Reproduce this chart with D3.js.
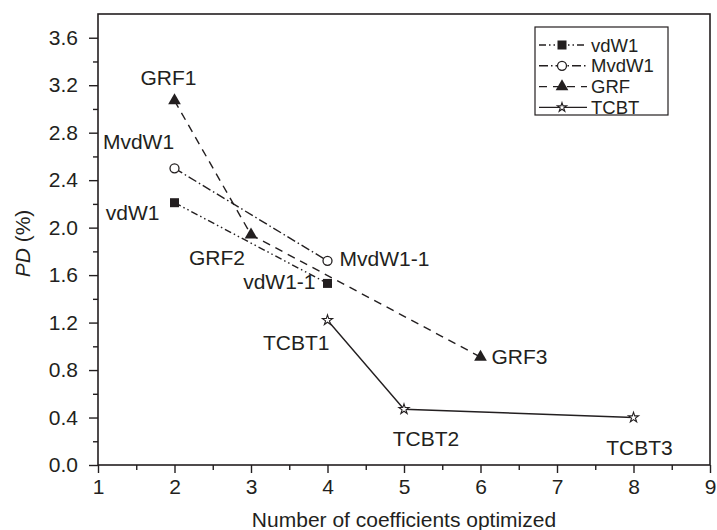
<!DOCTYPE html>
<html lang="en">
<head>
    <meta charset="UTF-8">
    <title>PD vs number of coefficients</title>
    <script src="https://d3js.org/d3.v7.min.js"></script>
    <style>
        body { margin: 0; background: #fff; }
        text { font-family: "Liberation Sans", Arial, Helvetica, sans-serif; fill: #231f20; }
    </style>
</head>
<body>
    <script>
        // data
        const seriesNames = ["vdW1", "MvdW1", "GRF", "TCBT"];
        const vdW1 = [{ x: 2, y: 2.21, label: "vdW1" }, { x: 4, y: 1.53, label: "vdW1-1" }];
        const mvdW1 = [{ x: 2, y: 2.50, label: "MvdW1" }, { x: 4, y: 1.72, label: "MvdW1-1" }];
        const grf = [{ x: 2, y: 3.07, label: "GRF1" }, { x: 3, y: 1.94, label: "GRF2" }, { x: 6, y: 0.91, label: "GRF3" }];
        const tcbt = [{ x: 4, y: 1.22, label: "TCBT1" }, { x: 5, y: 0.47, label: "TCBT2" }, { x: 8, y: 0.40, label: "TCBT3" }];
        const xTicks = [1, 2, 3, 4, 5, 6, 7, 8, 9];
        const yTicks = [0, 0.4, 0.8, 1.2, 1.6, 2.0, 2.4, 2.8, 3.2, 3.6];

        // label placement (px offsets from the point, anchor)
        const labelPos = {
            "vdW1": [-15, 17, "end"], "vdW1-1": [-12, 6, "end"],
            "MvdW1": [-36, -19, "middle"], "MvdW1-1": [12, 5, "start"],
            "GRF1": [-6, -16, "middle"], "GRF2": [-34, 30, "middle"], "GRF3": [11, 7, "start"],
            "TCBT1": [2, 30, "end"], "TCBT2": [22, 37, "middle"], "TCBT3": [6, 37, "middle"]
        };

        const ink = "#231f20";
        const fontSize = "21px";
        const margin = { top: 14, right: 7, bottom: 65, left: 98 };
        const width = 717 - margin.left - margin.right;
        const height = 530 - margin.top - margin.bottom;

        const svg = d3.select("body")
                        .append("svg")
                            .attr("width", 717)
                            .attr("height", 530)
                        .append("g")
                            .attr("transform", `translate(${margin.left},${margin.top})`);

        const x = d3.scaleLinear().domain([1, 9]).range([0, width]);
        const y = d3.scaleLinear().domain([0, 3.8]).range([height, 0]);

        // minor ticks
        svg.append("g")
            .attr("transform", `translate(0,${height})`)
            .call(d3.axisBottom(x).tickValues(d3.range(1.5, 9, 1)).tickSize(5).tickFormat(""))
            .call(g => g.select(".domain").remove());
        svg.append("g")
            .call(d3.axisLeft(y).tickValues(d3.range(0.2, 3.8, 0.4)).tickSize(5).tickFormat(""))
            .call(g => g.select(".domain").remove());

        // major ticks
        const xAxis = svg.append("g")
            .attr("transform", `translate(0,${height})`)
            .call(d3.axisBottom(x).tickValues(xTicks).tickSize(8).tickPadding(6).tickFormat(d3.format("d")));
        const yAxis = svg.append("g")
            .call(d3.axisLeft(y).tickValues(yTicks).tickSize(9).tickPadding(11).tickFormat(d3.format(".1f")));

        [xAxis, yAxis].forEach(g => {
            g.select(".domain").remove();
            g.selectAll("text").style("font-size", fontSize).attr("fill", ink);
        });
        svg.selectAll(".tick line").attr("stroke", ink).attr("stroke-width", 1.4);

        // frame
        svg.append("rect")
            .attr("width", width)
            .attr("height", height)
            .attr("fill", "none")
            .attr("stroke", ink)
            .attr("stroke-width", 1.6);

        svg.append("text")
            .attr("x", width / 2)
            .attr("y", height + 62)
            .attr("text-anchor", "middle")
            .style("font-size", fontSize)
            .text("Number of coefficients optimized");

        const yTitle = svg.append("text")
            .attr("transform", "rotate(-90)")
            .attr("x", -height / 2 - 4)
            .attr("y", -margin.left + 30)
            .attr("text-anchor", "middle")
            .style("font-size", fontSize);
        yTitle.append("tspan").style("font-style", "italic").text("PD");
        yTitle.append("tspan").text(" (%)");

        const series = [
            { name: seriesNames[0], data: vdW1, dash: "7,3,1.5,3,1.5,3", marker: "square" },
            { name: seriesNames[1], data: mvdW1, dash: "9,3,1.5,3", marker: "circle" },
            { name: seriesNames[2], data: grf, dash: "8,6", marker: "triangle" },
            { name: seriesNames[3], data: tcbt, dash: null, marker: "star" }
        ];

        const line = d3.line().x(d => x(d.x)).y(d => y(d.y));

        function drawMarker(g, type, starSize) {
            if (type === "square") {
                g.append("rect").attr("x", -4.5).attr("y", -4.5).attr("width", 9).attr("height", 9).attr("fill", ink);
            } else if (type === "circle") {
                g.append("circle").attr("r", 4.5).attr("fill", "#fff").attr("stroke", ink).attr("stroke-width", 1.3);
            } else if (type === "triangle") {
                g.append("path").attr("d", d3.symbol(d3.symbolTriangle, 70)()).attr("fill", ink);
            } else {
                g.append("path").attr("d", d3.symbol(d3.symbolStar, starSize || 32)()).attr("fill", "#fff")
                    .attr("stroke", ink).attr("stroke-width", 1.1);
            }
        }

        series.forEach(s => {
            svg.append("path")
                .datum(s.data)
                .attr("d", line)
                .attr("fill", "none")
                .attr("stroke", ink)
                .attr("stroke-width", 1.4)
                .attr("stroke-dasharray", s.dash);
        });

        series.forEach(s => {
            s.data.forEach(d => {
                const g = svg.append("g").attr("transform", `translate(${x(d.x)},${y(d.y)})`);
                drawMarker(g, s.marker);
                const p = labelPos[d.label];
                g.append("text")
                    .attr("x", p[0])
                    .attr("y", p[1])
                    .attr("text-anchor", p[2])
                    .style("font-size", fontSize)
                    .text(d.label);
            });
        });

        // legend
        const legend = svg.append("g").attr("transform", `translate(${535 - margin.left},${27 - margin.top})`);
        legend.append("rect")
            .attr("width", 133)
            .attr("height", 88)
            .attr("fill", "#fff")
            .attr("stroke", ink)
            .attr("stroke-width", 1.2);
        series.forEach((s, i) => {
            const row = legend.append("g").attr("transform", `translate(0,${18 + i * 20.8})`);
            row.append("line")
                .attr("x1", 4).attr("x2", 52)
                .attr("stroke", ink)
                .attr("stroke-width", 1.4)
                .attr("stroke-dasharray", s.dash);
            const m = row.append("g").attr("transform", "translate(27,0)");
            drawMarker(m, s.marker, 26);
            row.append("text")
                .attr("x", 56)
                .attr("y", 6.5)
                .style("font-size", "18.5px")
                .text(s.name);
        });
    </script>
</body>
</html>
